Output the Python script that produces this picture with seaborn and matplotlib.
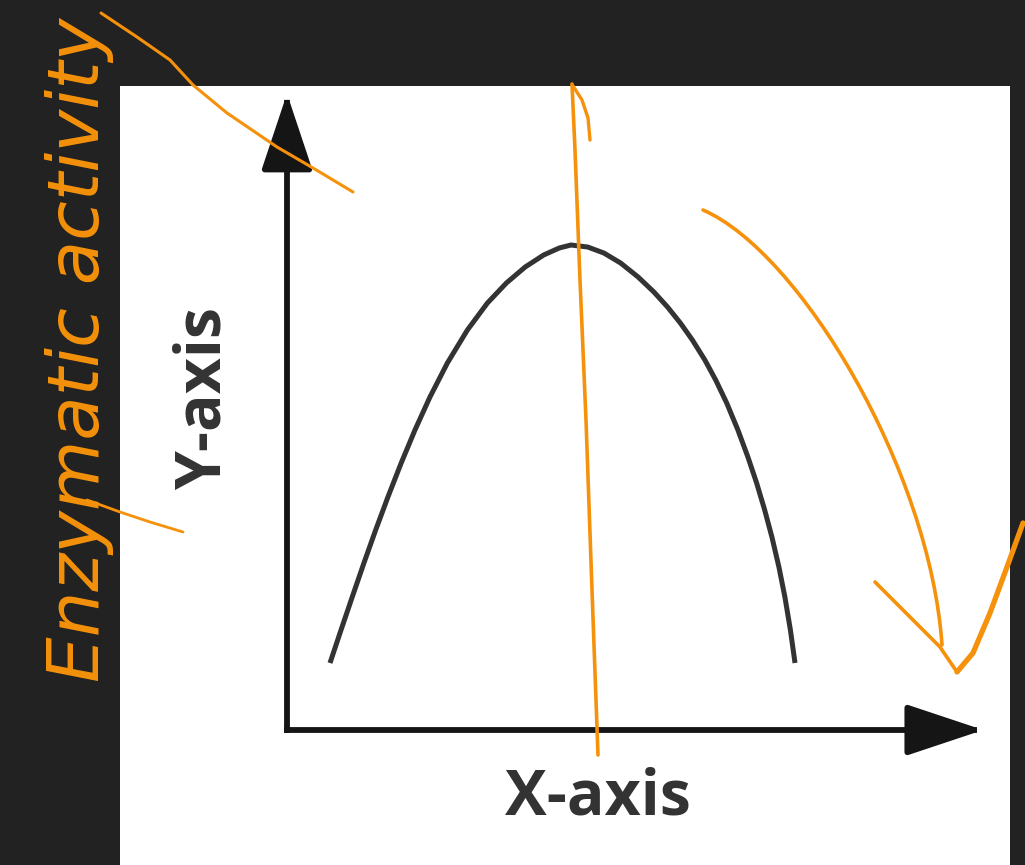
import matplotlib
matplotlib.use("Agg")
import matplotlib.pyplot as plt
from matplotlib.patches import Rectangle, PathPatch
from matplotlib.path import Path
import seaborn as sns

# Bell-shaped response curve (arbitrary units, axes run 0-100)
x_level = [6.25, 7.85, 9.48, 11.18, 12.89, 14.67, 16.60, 18.60, 20.78, 23.31,
           26.22, 29.13, 31.89, 34.62, 37.31, 39.58, 41.28, 43.71, 46.06, 48.49,
           51.03, 53.33, 55.31, 57.17, 58.92, 60.74, 62.31, 63.91, 65.54, 66.99,
           68.26, 69.43, 70.48, 71.50, 72.37, 73.17, 73.84]
activity = [10.60, 15.82, 21.04, 26.42, 31.65, 36.87, 42.25, 47.47, 52.69, 58.07,
            63.29, 67.56, 70.73, 73.26, 75.16, 76.27, 76.74, 76.42, 75.47, 73.89,
            71.68, 69.30, 66.93, 64.40, 61.71, 58.54, 55.38, 51.74, 47.47, 43.20,
            39.08, 34.81, 30.54, 25.79, 21.04, 15.82, 10.60]

x_label = "X-axis"
y_label = "Y-axis"
note_text = "Enzymatic activity"

# Hand-drawn pen strokes (pixel coordinates on the slide)
optimum_stroke_x = [572, 575, 580, 586, 592, 598]
optimum_stroke_y = [84, 150, 280, 420, 590, 755]
optimum_hook_x = [573, 582, 588, 590]
optimum_hook_y = [86, 100, 118, 140]
decline_ctrl = [(703, 210), (800, 252), (930, 470), (942, 645)]
head_left_x = [875, 905, 940, 957]
head_left_y = [582, 612, 647, 672]
head_right_x = [957, 973, 990, 1007, 1023]
head_right_y = [672, 653, 613, 567, 523]
tail_x = [101, 137, 170, 193, 227, 277, 313, 353]
tail_y = [13, 37, 60, 85, 113, 147, 168, 192]
tail2_x = [87, 120, 150, 183]
tail2_y = [500, 512, 522, 532]

W, H = 1025, 865
BG = "#222222"
INK = "#333333"
PEN = "#f5910a"

sns.set_theme(style="white")
plt.rcParams["font.family"] = ["DejaVu Sans"]

fig = plt.figure(figsize=(W / 100, H / 100), dpi=100, facecolor=BG)

# white slide area
fig.add_artist(Rectangle((120 / W, 0), (1010 - 120) / W, (H - 86) / H,
                         transform=fig.transFigure, facecolor="white",
                         edgecolor="none", zorder=0))

# plotting area: origin of the arrows at the lower-left corner
ax = fig.add_axes([287 / W, (H - 730) / H, (975 - 287) / W, (730 - 98) / H])
ax.set_xlim(0, 100)
ax.set_ylim(0, 100)
ax.axis("off")

sns.lineplot(x=x_level, y=activity, ax=ax, color=INK, linewidth=3.6,
             estimator=None, sort=False, solid_capstyle="butt",
             solid_joinstyle="round")

arrow_kw = dict(arrowstyle="-|>,head_length=2.4,head_width=0.8",
                mutation_scale=20, lw=4.2, color="#151515",
                shrinkA=0, shrinkB=0, capstyle="projecting")
ax.annotate("", xy=(101.2, 0), xytext=(0, 0), arrowprops=arrow_kw,
            annotation_clip=False)
ax.annotate("", xy=(0, 100.7), xytext=(0, 0), arrowprops=arrow_kw,
            annotation_clip=False)

fig.text(598 / W, 1 - 798 / H, x_label, ha="center", va="center",
         fontsize=45, fontweight="bold", color=INK, family="Open Sans")
fig.text(204 / W, 1 - 398 / H, y_label, ha="center", va="center",
         rotation=90, fontsize=45, fontweight="bold", color=INK,
         family="Open Sans")

# pen annotations on top of the slide
ov = fig.add_axes([0, 0, 1, 1])
ov.set_xlim(0, W)
ov.set_ylim(H, 0)
ov.axis("off")
ov.patch.set_alpha(0)

ov.text(80, 350, note_text, rotation=90, ha="center", va="center",
        color=PEN, fontsize=52, style="italic")

stroke = dict(color=PEN, solid_capstyle="round", solid_joinstyle="round")
ov.plot(optimum_stroke_x, optimum_stroke_y, lw=2.6, **stroke)
ov.plot(optimum_hook_x, optimum_hook_y, lw=2.4, **stroke)
ov.add_patch(PathPatch(Path(decline_ctrl, [Path.MOVETO] + [Path.CURVE4] * 3),
                       facecolor="none", edgecolor=PEN, lw=2.6,
                       capstyle="round"))
ov.plot(head_left_x, head_left_y, lw=2.6, **stroke)
ov.plot(head_right_x, head_right_y, lw=3.8, **stroke)
ov.plot(tail_x, tail_y, lw=2.2, **stroke)
ov.plot(tail2_x, tail2_y, lw=2.0, **stroke)

fig.savefig("out.png", dpi=100, facecolor=BG)
